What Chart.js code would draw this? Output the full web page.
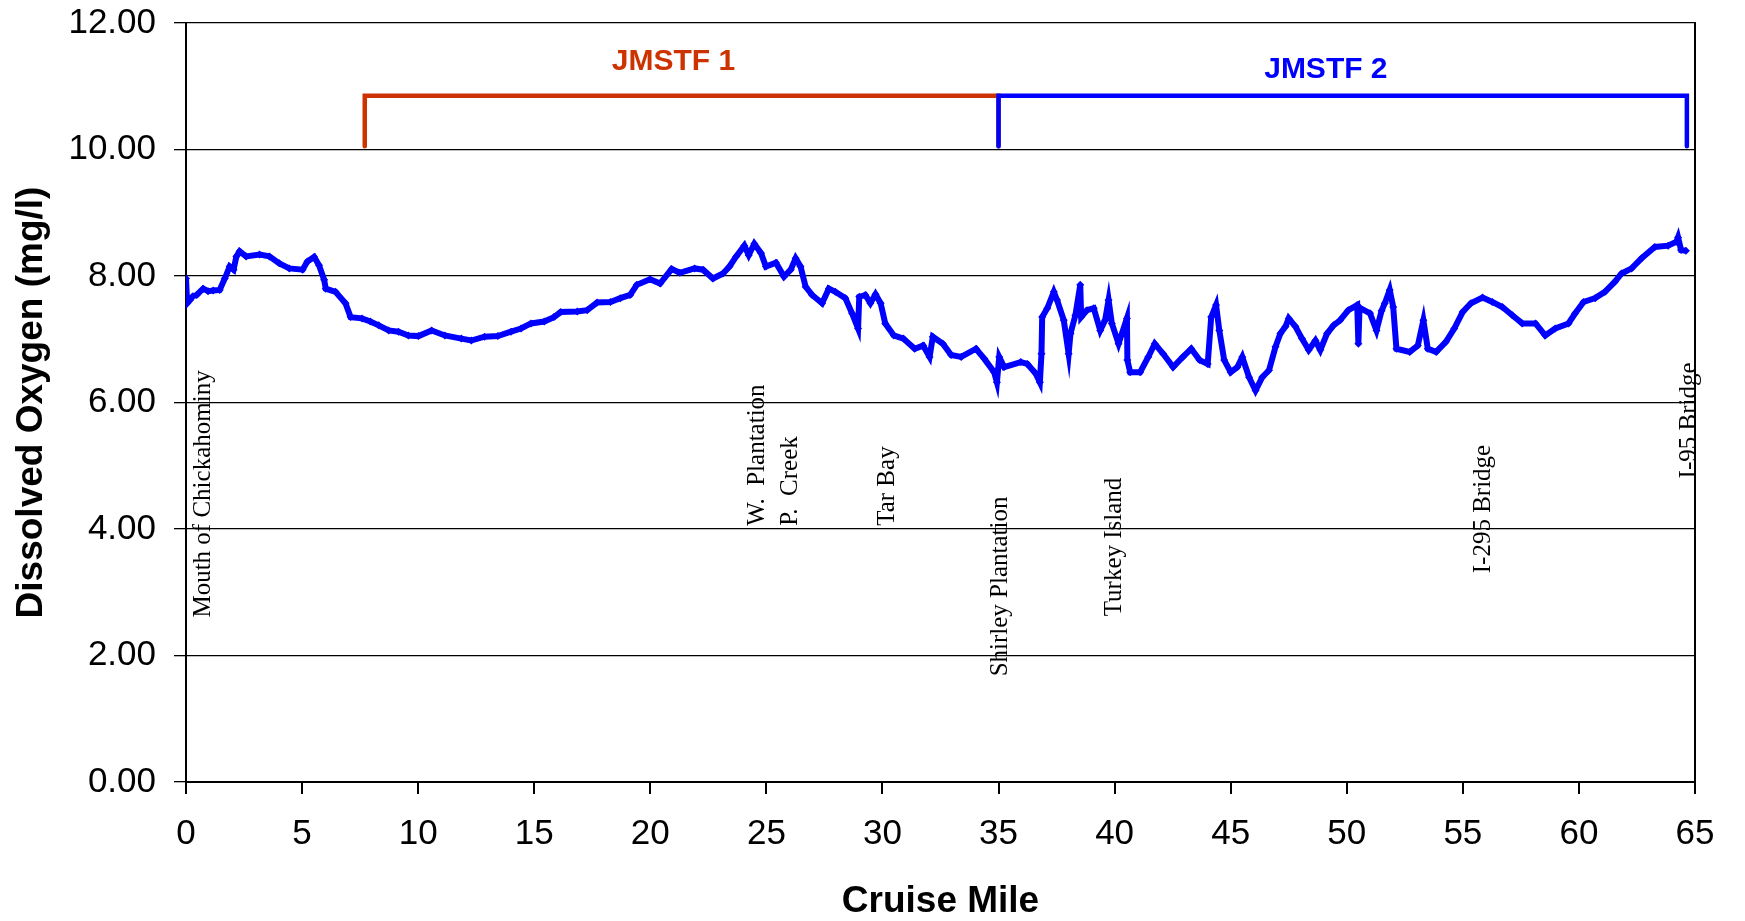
<!DOCTYPE html>
<html>
<head>
<meta charset="utf-8">
<title>Dissolved Oxygen by Cruise Mile</title>
<script src="https://cdn.jsdelivr.net/npm/chart.js@4.4.1/dist/chart.umd.min.js"></script>
<style>
    html, body { margin: 0; padding: 0; background: #ffffff; }
    #wrap { width: 1745px; height: 921px; }
</style>
</head>
<body>
<div id="wrap"><canvas id="doChart" width="1745" height="921"></canvas></div>
<script>
// Cruise mile of each reading
const cruiseMiles = [
    0.00, 0.05, 0.17, 0.30, 0.46, 0.74, 0.95, 1.17, 1.45, 1.67, 1.88, 2.05, 2.17, 2.31, 2.59, 3.17,
    3.59, 4.02, 4.45, 5.02, 5.23, 5.52, 5.73, 5.95, 6.02, 6.44, 6.87, 7.09, 7.58, 7.94, 8.30, 8.73,
    9.15, 9.58, 10.01, 10.58, 11.15, 11.86, 12.29, 12.86, 13.43, 14.00, 14.43, 14.86, 15.43, 15.85,
    16.14, 16.85, 17.28, 17.71, 18.28, 18.71, 19.13, 19.42, 19.99, 20.42, 20.92, 21.27, 21.91, 22.27,
    22.70, 23.13, 23.41, 23.70, 24.05, 24.24, 24.48, 24.77, 24.98, 25.41, 25.76, 26.05, 26.26, 26.47,
    26.69, 26.97, 27.40, 27.69, 27.97, 28.40, 28.69, 28.95, 29.00, 29.26, 29.48, 29.70, 29.92, 30.12,
    30.49, 30.90, 31.39, 31.75, 32.03, 32.17, 32.60, 32.96, 33.39, 34.03, 34.39, 34.81, 34.93, 35.03,
    35.24, 35.96, 36.24, 36.60, 36.78, 36.85, 36.88, 37.10, 37.38, 37.52, 37.81, 38.02, 38.10, 38.31,
    38.52, 38.56, 38.81, 39.10, 39.38, 39.59, 39.74, 39.88, 40.17, 40.53, 40.55, 40.67, 41.10, 41.45,
    41.73, 42.09, 42.52, 42.94, 43.30, 43.66, 44.01, 44.16, 44.37, 44.51, 44.72, 45.00, 45.29, 45.50,
    45.79, 46.07, 46.36, 46.65, 46.93, 47.14, 47.36, 47.50, 47.79, 48.07, 48.36, 48.65, 48.86, 49.15,
    49.43, 49.71, 50.07, 50.45, 50.50, 50.55, 51.00, 51.28, 51.50, 51.64, 51.85, 52.00, 52.14, 52.71,
    53.06, 53.30, 53.49, 53.85, 54.27, 54.63, 54.99, 55.35, 55.85, 56.27, 56.70, 57.13, 57.56, 58.13,
    58.55, 58.98, 59.55, 59.84, 60.20, 60.70, 61.12, 61.55, 61.84, 62.27, 62.70, 63.27, 63.84, 64.20,
    64.27, 64.40, 64.61
];

// Dissolved oxygen (mg/l) at each cruise mile
const dissolvedOxygen = [
    7.96, 7.57, 7.62, 7.68, 7.70, 7.80, 7.76, 7.77, 7.78, 7.96, 8.15, 8.10, 8.31, 8.39, 8.31, 8.34,
    8.31, 8.20, 8.12, 8.10, 8.23, 8.30, 8.17, 7.94, 7.80, 7.75, 7.57, 7.35, 7.33, 7.28, 7.22, 7.14,
    7.12, 7.06, 7.05, 7.14, 7.06, 7.01, 6.98, 7.04, 7.05, 7.12, 7.17, 7.25, 7.28, 7.35,
    7.43, 7.44, 7.46, 7.58, 7.59, 7.65, 7.70, 7.86, 7.95, 7.88, 8.11, 8.05, 8.12, 8.10,
    7.96, 8.04, 8.15, 8.31, 8.48, 8.33, 8.51, 8.36, 8.15, 8.21, 7.99, 8.10, 8.28, 8.15,
    7.83, 7.70, 7.57, 7.80, 7.75, 7.65, 7.41, 7.17, 7.67, 7.70, 7.57, 7.71, 7.57, 7.25,
    7.06, 7.01, 6.85, 6.90, 6.72, 7.04, 6.93, 6.75, 6.72, 6.85, 6.69, 6.48, 6.32, 6.72,
    6.56, 6.64, 6.61, 6.46, 6.32, 6.77, 7.35, 7.49, 7.75, 7.62, 7.30, 6.77, 7.09, 7.38,
    7.86, 7.35, 7.46, 7.49, 7.14, 7.30, 7.62, 7.25, 6.93, 7.33, 6.67, 6.48, 6.48, 6.72,
    6.93, 6.77, 6.56, 6.72, 6.85, 6.67, 6.61, 7.35, 7.54, 7.14, 6.67, 6.48, 6.56, 6.72,
    6.40, 6.19, 6.40, 6.51, 6.88, 7.09, 7.20, 7.33, 7.20, 7.01, 6.83, 6.98, 6.83, 7.09,
    7.22, 7.30, 7.46, 7.54, 6.93, 7.50, 7.41, 7.14, 7.45, 7.57, 7.78, 7.51, 6.85, 6.80,
    6.90, 7.30, 6.85, 6.80, 6.96, 7.17, 7.43, 7.57, 7.66, 7.59, 7.51, 7.38, 7.25, 7.25,
    7.06, 7.17, 7.25, 7.41, 7.59, 7.65, 7.75, 7.91, 8.04, 8.12, 8.28, 8.46, 8.48, 8.54,
    8.61, 8.41, 8.40
];

// Landmarks along the river: name, cruise mile, and value where the rotated text starts
const landmarkNames = ['Mouth of Chickahominy', 'W.  Plantation', 'P.  Creek', 'Tar Bay',
    'Shirley Plantation', 'Turkey Island', 'I-295 Bridge', 'I-95 Bridge'];
const landmarkMiles = [0.75, 24.6, 26.05, 30.2, 35.1, 40.0, 55.9, 64.75];
const landmarkBase = [2.6, 4.05, 4.05, 4.05, 1.67, 2.62, 3.3, 4.8];

// Segment brackets at the top of the chart
const segmentNames = ['JMSTF 1', 'JMSTF 2'];
const segmentStart = [7.7, 35.0];
const segmentEnd = [35.0, 64.65];
const segmentColors = ['#CC3300', '#0000FF'];
const bracketTop = 10.85;
const bracketFoot = 10.05;
const segmentLabelMile = [21.0, 49.1];
const segmentLabelY = [11.38, 11.26];

const yTicks = [0, 2, 4, 6, 8, 10, 12];

function buildChart() {
    const ctx = document.getElementById('doChart');

    // readings as x/y points
    const doPoints = cruiseMiles.map((m, i) => ({ x: m, y: dissolvedOxygen[i] }));

    // one bracket dataset per segment
    const bracketSets = segmentNames.map((name, i) => ({
        label: name,
        data: [
            { x: segmentStart[i], y: bracketFoot },
            { x: segmentStart[i], y: bracketTop },
            { x: segmentEnd[i], y: bracketTop },
            { x: segmentEnd[i], y: bracketFoot }
        ],
        borderColor: segmentColors[i],
        borderWidth: 4.5,
        borderCapStyle: 'round',
        borderJoinStyle: 'miter',
        pointRadius: 0,
        tension: 0,
        order: 2 - i
    }));

    // draws the landmark names and the bracket titles
    const textPlugin = {
        id: 'riverText',
        afterDatasetsDraw(chart) {
            const c = chart.ctx;
            const xs = chart.scales.x;
            const ys = chart.scales.y;
            c.save();
            c.fillStyle = '#000000';
            c.font = '25px "Liberation Serif", "Times New Roman", serif';
            c.textAlign = 'left';
            c.textBaseline = 'middle';
            landmarkNames.forEach((name, i) => {
                c.save();
                c.translate(xs.getPixelForValue(landmarkMiles[i]), ys.getPixelForValue(landmarkBase[i]));
                c.rotate(-Math.PI / 2);
                c.fillText(name, 0, 0);
                c.restore();
            });
            c.font = 'bold 30px "Liberation Sans", Arial, sans-serif';
            c.textAlign = 'center';
            segmentNames.forEach((name, i) => {
                c.fillStyle = segmentColors[i];
                c.fillText(name, xs.getPixelForValue(segmentLabelMile[i]), ys.getPixelForValue(segmentLabelY[i]));
            });
            c.restore();
        }
    };

    new Chart(ctx, {
        type: 'line',
        data: {
            datasets: [
                {
                    label: 'Dissolved Oxygen',
                    data: doPoints,
                    borderColor: '#0000FF',
                    backgroundColor: '#0000FF',
                    borderWidth: 6,
                    pointStyle: 'rectRot',
                    pointRadius: 4,
                    pointBorderWidth: 0,
                    tension: 0,
                    order: 0
                },
                ...bracketSets
            ]
        },
        options: {
            responsive: false,
            animation: false,
            devicePixelRatio: 1,
            layout: {
                padding: { top: 23, right: 50, bottom: 0, left: 0 }
            },
            plugins: {
                legend: { display: false },
                tooltip: { enabled: false }
            },
            scales: {
                x: {
                    type: 'linear',
                    min: 0,
                    max: 65,
                    afterFit: (scale) => { scale.height = 139; },
                    ticks: {
                        stepSize: 5,
                        color: '#000000',
                        padding: 19,
                        maxRotation: 0,
                        font: { family: '"Liberation Sans", Arial, sans-serif', size: 35 }
                    },
                    grid: {
                        drawOnChartArea: false,
                        drawTicks: true,
                        tickLength: 12,
                        color: '#000000',
                        lineWidth: 2
                    },
                    border: { color: '#000000', width: 2 },
                    title: {
                        display: true,
                        text: 'Cruise Mile',
                        color: '#000000',
                        padding: { top: 0, bottom: -3 },
                        font: { family: '"Liberation Sans", Arial, sans-serif', size: 37, weight: 'bold' }
                    }
                },
                y: {
                    type: 'linear',
                    min: 0,
                    max: 12,
                    afterFit: (scale) => {
                        // fixed width, and no extra room above the top label
                        scale.width = 186;
                        scale.paddingTop = 0;
                        scale.paddingBottom = 0;
                    },
                    afterBuildTicks: (scale) => { scale.ticks = yTicks.map(v => ({ value: v })); },
                    ticks: {
                        color: '#000000',
                        padding: 18,
                        callback: (v) => Number(v).toFixed(2),
                        font: { family: '"Liberation Sans", Arial, sans-serif', size: 35 }
                    },
                    grid: {
                        color: '#000000',
                        lineWidth: 1.3,
                        drawTicks: true,
                        tickLength: 12
                    },
                    border: { color: '#000000', width: 2 },
                    title: {
                        display: true,
                        text: 'Dissolved Oxygen (mg/l)',
                        color: '#000000',
                        padding: { top: 10, bottom: 0 },
                        font: { family: '"Liberation Sans", Arial, sans-serif', size: 37, weight: 'bold' }
                    }
                },
                yRight: {
                    type: 'linear',
                    position: 'right',
                    min: 0,
                    max: 12,
                    afterFit: (scale) => { scale.width = 0; },
                    ticks: { display: false },
                    grid: { display: false },
                    border: { color: '#000000', width: 2 }
                }
            }
        },
        plugins: [textPlugin]
    });
}

buildChart();
</script>
</body>
</html>
